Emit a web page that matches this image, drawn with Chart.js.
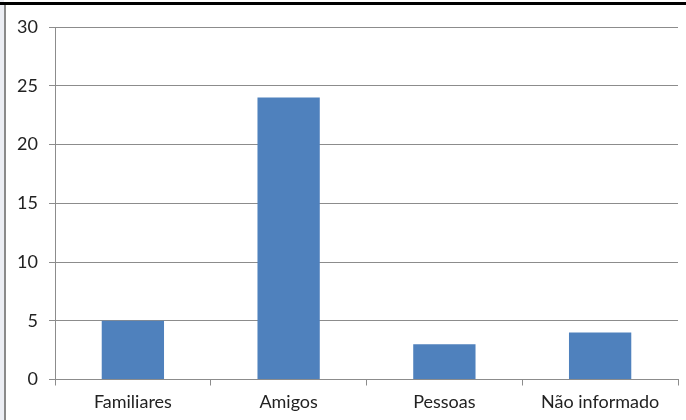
<!DOCTYPE html>
<html>
<head>
<meta charset="utf-8">
<script src="https://cdn.jsdelivr.net/npm/chart.js@4"></script>
<style>
  html, body { margin: 0; padding: 0; background: #fff; }
  #wrap { position: relative; width: 686px; height: 420px; }
</style>
</head>
<body>
<div id="wrap"><canvas id="bars" width="686" height="420"></canvas></div>
<script>
const categories = ['Familiares', 'Amigos', 'Pessoas', 'Não informado'];
const counts = [5, 24, 3, 4];
const yTicks = [0, 5, 10, 15, 20, 25, 30];

// moldura do gráfico (borda preta em cima, cinza à esquerda)
const frame = {
  id: 'frame',
  beforeDraw(chart) {
    const ctx = chart.ctx;
    ctx.save();
    ctx.fillStyle = '#eceef4';
    ctx.fillRect(0, 0, 4, 420);
    ctx.fillStyle = '#000';
    ctx.fillRect(0, 2, 686, 3);
    ctx.fillStyle = '#8a8a8a';
    ctx.fillRect(4, 5, 2, 415);
    ctx.restore();
  }
};

const gray = '#8c8c8c';

new Chart(document.getElementById('bars'), {
  type: 'bar',
  data: {
    labels: categories,
    datasets: [{
      data: counts,
      backgroundColor: '#4F81BD',
      borderWidth: 0,
      categoryPercentage: 1,
      barPercentage: 0.4
    }]
  },
  options: {
    responsive: false,
    animation: false,
    layout: { padding: { top: 27, right: 8, left: 0, bottom: 0 } },
    plugins: { legend: { display: false }, tooltip: { enabled: false } },
    scales: {
      x: {
        grid: { drawOnChartArea: false, drawTicks: true, tickLength: 6, color: gray, offset: true },
        border: { color: gray, width: 1 },
        ticks: { color: '#222', font: { family: 'Lato', size: 18 }, padding: 6, maxRotation: 0 },
        afterFit(scale) { scale.height = 40.5; }
      },
      y: {
        min: 0,
        max: 30,
        afterBuildTicks(scale) { scale.ticks = yTicks.map(v => ({ value: v })); },
        grid: { color: gray, tickLength: 6 },
        border: { color: gray, width: 1 },
        ticks: { color: '#222', font: { family: 'Lato', size: 18 }, padding: 11 },
        afterFit(scale) { scale.width = 55; }
      }
    }
  },
  plugins: [frame]
});
</script>
</body>
</html>
